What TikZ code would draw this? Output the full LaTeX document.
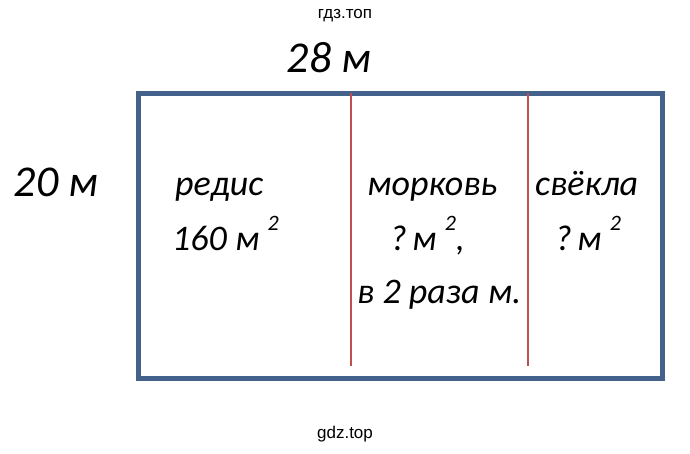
\documentclass[tikz,border=0pt]{standalone}
\usepackage{fontspec}
\setmainfont{Carlito}
\newfontfamily\wmfont{Liberation Sans}
\usepackage{xcolor}
\definecolor{rahmen}{HTML}{44618B}
\definecolor{trenner}{HTML}{C0504D}
\tikzset{
	beet/.style={font=\fontsize{36}{40}\selectfont\itshape, anchor=base west, inner sep=0pt},
	mass/.style={font=\fontsize{44}{48}\selectfont\itshape, anchor=base, inner sep=0pt},
	wm/.style={font=\wmfont\fontsize{17}{19}\selectfont, inner sep=0pt}
}
\newcommand{\hochzwei}{\raisebox{0.55em}{\fontsize{22}{24}\selectfont 2}}

\begin{document}
\begin{tikzpicture}[x=1pt,y=-1pt]
        \useasboundingbox (0,0) rectangle (690,453);
        % Wasserzeichen
        \node[wm] (wmoben) at (345,16) {гдз.топ};
        \node[wm] (wmunten) at (345,434) {gdz.top};
        % Beet zeichnen
        \draw[rahmen, line width=5pt] (138,93) rectangle (662,378);
        \draw[trenner, line width=1.2pt] (351,93) -- (351,366);
        \draw[trenner, line width=1.2pt] (528,93) -- (528,366);
        % Seitenlaengen
        \node[mass] (laenge) at (329,72) {28 м};
        \node[mass] (breite) at (56,196) {20 м};
        % Beschriftung der Teile
        \node[beet] (redis) at (175,195) {редис};
        \node[beet] (redisfl) at (172,250) {160 м \hochzwei};
        \node[beet] (morkov) at (367,195) {морковь};
        \node[beet] (morkovfl) at (390,250) {?\hspace{0.15em}м \hochzwei,};
        \node[beet] (morkovrel) at (357,303) {в 2 раза м.};
        \node[beet] (svekla) at (535,195) {свёкла};
        \node[beet] (sveklafl) at (555,250) {?\hspace{0.15em}м \hochzwei};
    \end{tikzpicture}
\end{document}
